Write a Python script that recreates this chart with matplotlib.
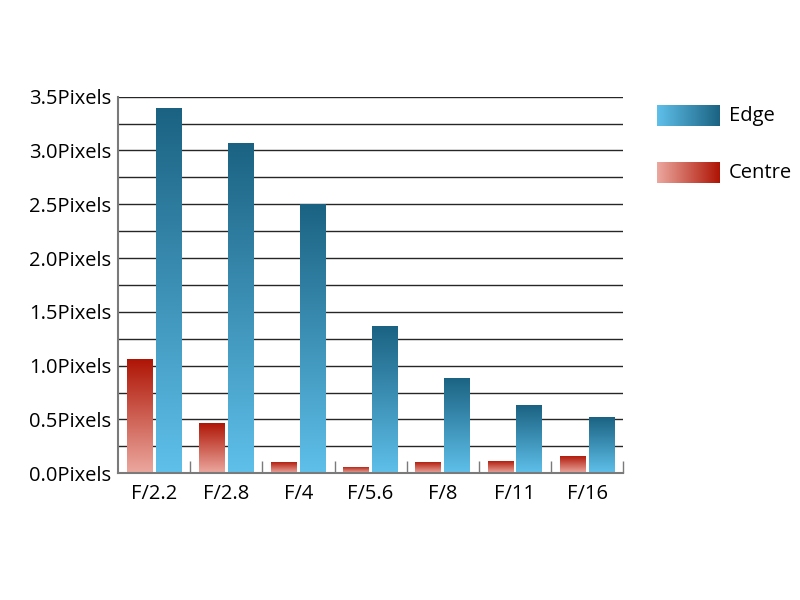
import matplotlib
matplotlib.use("Agg")
import matplotlib.pyplot as plt
import numpy as np
from matplotlib.colors import LinearSegmentedColormap

# --- data ---
apertures = ["F/2.2", "F/2.8", "F/4", "F/5.6", "F/8", "F/11", "F/16"]
centre = [1.06, 0.47, 0.105, 0.056, 0.105, 0.117, 0.158]
edge = [3.39, 3.07, 2.50, 1.37, 0.89, 0.63, 0.52]
yticks = [0.0, 0.5, 1.0, 1.5, 2.0, 2.5, 3.0, 3.5]

# --- palette ---
BLUE_LO, BLUE_HI = "#5fc0ea", "#1b6282"
RED_LO, RED_HI = "#eca89f", "#ae1404"
blue_cm = LinearSegmentedColormap.from_list("blue", [BLUE_LO, BLUE_HI])
red_cm = LinearSegmentedColormap.from_list("red", [RED_LO, RED_HI])
GRID, SPINE = "#262626", "#7a7a7a"
FS = 14.5

plt.rcParams["font.family"] = ["Open Sans", "DejaVu Sans"]
fig = plt.figure(figsize=(8, 6), dpi=100)
ax = fig.add_axes([0.1475, 0.2112, 0.6315, 0.6277])

x = np.arange(len(apertures))
w, off = 0.36, 0.2
grad = np.linspace(0, 1, 256).reshape(-1, 1)


def gradient_bars(xs, vals, cmap):
    bars = ax.bar(xs, vals, width=w, color="none", edgecolor="none", zorder=3)
    for b in bars:
        x0, y0 = b.get_x(), b.get_y()
        im = ax.imshow(grad, extent=[x0, x0 + b.get_width(), y0, y0 + b.get_height()],
                       origin="lower", aspect="auto", cmap=cmap, zorder=3,
                       interpolation="bilinear")
        im.set_clip_path(b)


gradient_bars(x - off, centre, red_cm)
gradient_bars(x + off, edge, blue_cm)

ax.set_xlim(-0.5, len(apertures) - 0.5)
ax.set_ylim(0, 3.5)
ax.set_xticks(x)
ax.set_xticklabels(apertures, fontsize=FS)
ax.set_xticks(np.arange(0.5, len(apertures), 1.0), minor=True)
ax.tick_params(axis="x", which="major", length=0, pad=8)
ax.tick_params(axis="x", which="minor", direction="in", length=9, width=1, color=SPINE)

ax.set_yticks(yticks)
ax.set_yticklabels([f"{v:.1f}Pixels" for v in yticks], fontsize=FS)
ax.set_yticks(np.arange(0.25, 3.5, 0.5), minor=True)
ax.tick_params(axis="y", which="both", length=0, pad=5)
ax.grid(axis="y", which="both", color=GRID, lw=1, zorder=1)
ax.set_axisbelow(True)

for s in ("top", "right"):
    ax.spines[s].set_visible(False)
for s in ("left", "bottom"):
    ax.spines[s].set_color(SPINE)
    ax.spines[s].set_linewidth(1.5)
    ax.spines[s].set_zorder(5)

# --- legend: gradient swatches ---
hgrad = np.linspace(0, 1, 256).reshape(1, -1)
for (label, cmap, ytop) in [("Edge", blue_cm, 105), ("Centre", red_cm, 162)]:
    lax = fig.add_axes([657 / 800, 1 - (ytop + 21) / 600, 63 / 800, 21 / 600])
    lax.imshow(hgrad, aspect="auto", cmap=cmap)
    lax.axis("off")
    fig.text(729 / 800, 1 - (ytop + 11) / 600, label, fontsize=FS, va="center", ha="left")

fig.savefig("out.png", dpi=100)
